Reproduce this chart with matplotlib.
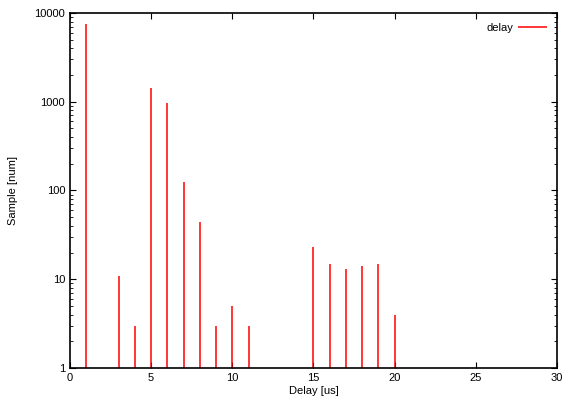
import numpy as np
import matplotlib
matplotlib.use("Agg")
import matplotlib.pyplot as plt
from matplotlib.ticker import LogLocator, NullFormatter, FixedLocator

plt.rcParams['font.family'] = ['Liberation Sans', 'DejaVu Sans']

# delay histogram
delay = [1, 3, 4, 5, 6, 7, 8, 9, 10, 11, 15, 16, 17, 18, 19, 20]
samples = [7500, 11, 3, 1430, 970, 125, 44, 3, 5, 3, 23, 15, 13, 14, 15, 4]

fig = plt.figure(figsize=(5.63, 4.03), dpi=100)
ax = fig.add_axes([0.1243, 0.0868, 0.865, 0.881])

ax.vlines(delay, 1, samples, colors='#ff0000', linewidth=1.1, label='delay')

ax.set_yscale('log')
ax.set_xlim(0, 30)
ax.set_ylim(1, 10000)
ax.xaxis.set_major_locator(FixedLocator([0, 5, 10, 15, 20, 25, 30]))
ax.yaxis.set_major_locator(FixedLocator([1, 10, 100, 1000, 10000]))
ax.yaxis.set_minor_locator(LogLocator(base=10, subs=np.arange(2, 10)))
ax.yaxis.set_minor_formatter(NullFormatter())
ax.set_yticklabels(['1', '10', '100', '1000', '10000'])

ax.tick_params(which='both', direction='in', top=True, right=True,
               labelsize=8, colors='black')
ax.tick_params(which='major', length=4, width=0.8)
ax.tick_params(which='minor', length=2, width=0.6)
for s in ax.spines.values():
    s.set_linewidth(1.2)

ax.set_xlabel("Delay [us]", fontsize=8, labelpad=2)
ax.set_ylabel("Sample [num]", fontsize=8, labelpad=12)

ax.legend(loc='upper right', frameon=False, fontsize=8, handlelength=2.6,
          handletextpad=0.4, markerfirst=False, borderaxespad=0.5)

fig.savefig("out.png", dpi=100)
